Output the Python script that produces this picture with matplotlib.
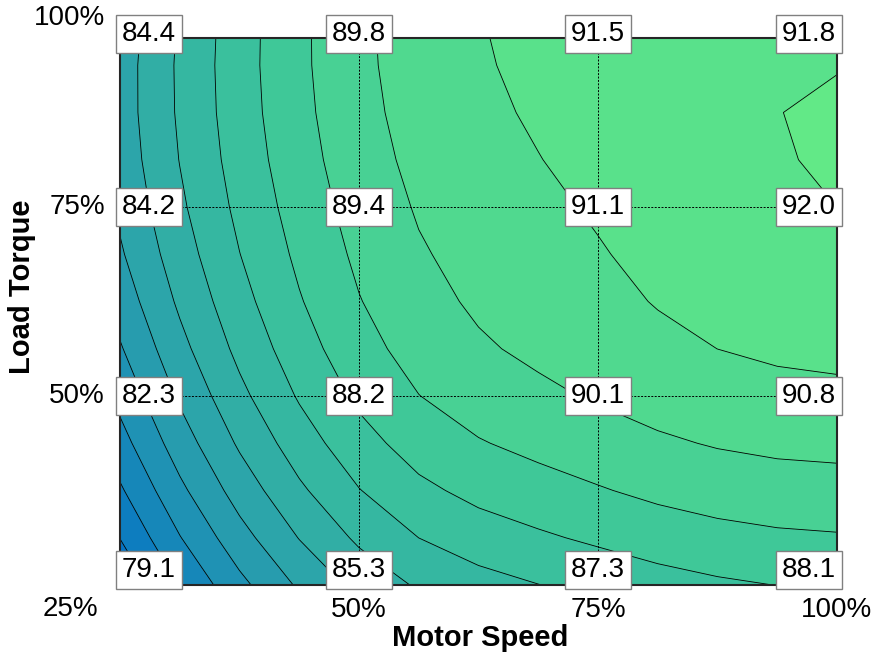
import matplotlib.pyplot as plt
import matplotlib.transforms as mtransforms
from matplotlib.colors import LinearSegmentedColormap
import numpy as np

plt.rcParams['font.family'] = ['Liberation Sans', 'DejaVu Sans']

speed = [25, 50, 75, 100]      # Motor Speed (%)
torque = [25, 50, 75, 100]     # Load Torque (%)
# efficiency, rows = torque (25..100), cols = speed (25..100)
eff = np.array([
    [79.1, 85.3, 87.3, 88.1],
    [82.3, 88.2, 90.1, 90.8],
    [84.2, 89.4, 91.1, 92.0],
    [84.4, 89.8, 91.5, 91.8],
])
levels = np.arange(79, 94, 1)
speed_ticks = ['25%', '50%', '75%', '100%']
torque_ticks = ['25%', '50%', '75%', '100%']


def cubic_conv(f, n_sub=4):
    # cubic convolution (Keys, a=-0.5) refinement along the last axis
    f = np.asarray(f, dtype=float)
    ext = np.concatenate([(3 * f[..., 0] - 3 * f[..., 1] + f[..., 2])[..., None], f,
                          (3 * f[..., -1] - 3 * f[..., -2] + f[..., -3])[..., None]], axis=-1)
    n = f.shape[-1]
    u = np.linspace(0, n - 1, (n - 1) * n_sub + 1)
    k = np.minimum(np.floor(u).astype(int), n - 2)
    t = u - k
    p0, p1, p2, p3 = ext[..., k], ext[..., k + 1], ext[..., k + 2], ext[..., k + 3]
    return (p1 + 0.5 * t * (p2 - p0)
            + t ** 2 * (p0 - 2.5 * p1 + 2 * p2 - 0.5 * p3)
            + t ** 3 * (0.5 * (p3 - p0) + 1.5 * (p1 - p2)))


Z = cubic_conv(cubic_conv(eff).T).T
xs = np.linspace(speed[0], speed[-1], Z.shape[1])
ys = np.linspace(torque[0], torque[-1], Z.shape[0])
X, Y = np.meshgrid(xs, ys)

cmap = LinearSegmentedColormap.from_list(
    'eff', [(0.0, 0.43, 0.78), (0.16, 0.62, 0.68), (0.24, 0.78, 0.60), (0.40, 0.93, 0.52)])

fig = plt.figure(figsize=(8.78, 6.56), dpi=100)
ax = fig.add_axes([120 / 878, 1 - 585 / 656, 717 / 878, 547 / 656])
ax.contourf(X, Y, Z, levels=levels, cmap=cmap, vmin=79, vmax=93)
ax.contour(X, Y, Z, levels=levels, colors='k', linewidths=0.6)

for v in [50, 75]:
    ax.axvline(v, color='k', linestyle=(0, (2, 1.5)), linewidth=0.7)
    ax.axhline(v, color='k', linestyle=(0, (2, 1.5)), linewidth=0.7)

ax.set_xlim(25, 100)
ax.set_ylim(25, 25 + 547 / 7.56)
ax.set_xticks([])
ax.set_yticks([])
for s in ax.spines.values():
    s.set_linewidth(1.5)
    s.set_color('#262626')

# value boxes, shifted inward at the edges
for i, t in enumerate(torque):
    for j, s in enumerate(speed):
        dx = 29 if j == 0 else (-28 if j == 3 else 0)
        dy = -16 if i == 3 else (15 if i == 0 else 0)
        tr = mtransforms.offset_copy(ax.transData, fig=fig, x=dx, y=dy, units='dots')
        ax.text(s, t, f'{eff[i, j]:.1f}', transform=tr, ha='center', va='center',
                fontsize=20, clip_on=False, zorder=5,
                bbox=dict(boxstyle='square,pad=0.2', fc='white', ec='#808080', lw=1))

# tick labels
for s, lab in zip(speed[1:], speed_ticks[1:]):
    tr = mtransforms.offset_copy(ax.get_xaxis_transform(), fig=fig, x=0, y=-32, units='dots')
    ax.text(s, 0, lab, transform=tr, ha='center', va='baseline', fontsize=20, clip_on=False)
for t, lab in zip(torque[1:], torque_ticks[1:]):
    tr = mtransforms.offset_copy(ax.get_yaxis_transform(), fig=fig, x=-15, y=0, units='dots')
    ax.text(0, t, lab, transform=tr, ha='right', va='center', fontsize=20, clip_on=False)
fig.text(70 / 878, 1 - 616 / 656, speed_ticks[0], ha='center', va='baseline', fontsize=20)

fig.text(480 / 878, 1 - 646 / 656, 'Motor Speed', ha='center', va='baseline',
         fontsize=21, fontweight='bold')
fig.text(22 / 878, 1 - 287 / 656, 'Load Torque', ha='center', va='center',
         fontsize=21, fontweight='bold', rotation=90)

fig.savefig('out.png', dpi=100)
